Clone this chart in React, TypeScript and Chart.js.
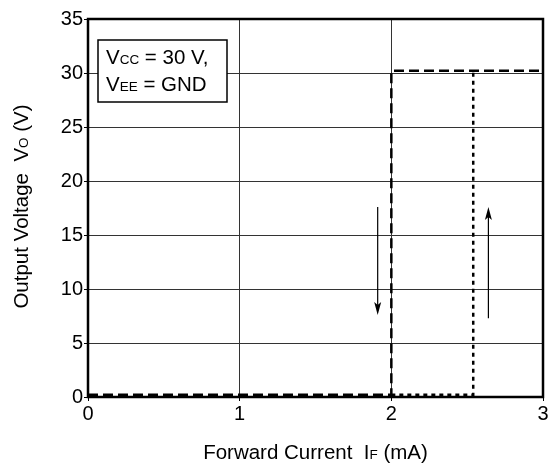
import React, { useEffect, useRef } from "react";
import { Chart, registerables } from "chart.js";

Chart.register(...registerables);

// Data
const xTicks = [0, 1, 2, 3];
const yTicks = [0, 5, 10, 15, 20, 25, 30, 35];
const turnOffX = [0, 2.0, 2.0, 3.0];
const turnOffY = [0.2, 0.2, 30.2, 30.2];
const turnOnX = [2.0, 2.54, 2.54];
const turnOnY = [0.2, 0.2, 30.2];
const arrowDownX = 1.91;
const arrowDownY = [17.6, 7.6];
const arrowUpX = 2.64;
const arrowUpY = [7.3, 17.6];
const noteLines = [
  [{ t: "V", s: false }, { t: "CC", s: true }, { t: " = 30 V,", s: false }],
  [{ t: "V", s: false }, { t: "EE", s: true }, { t: " = GND", s: false }],
];
const xTitle = [
  { t: "Forward Current  I", s: false },
  { t: "F", s: true },
  { t: " (mA)", s: false },
];
const yTitle = [
  { t: "Output Voltage  V", s: false },
  { t: "O", s: true },
  { t: " (V)", s: false },
];

const FONT = "'Liberation Sans', Arial, sans-serif";

type Seg = { t: string; s: boolean };

function segWidth(ctx: CanvasRenderingContext2D, segs: Seg[], big: number, small: number) {
  let w = 0;
  for (const sg of segs) {
    ctx.font = `${sg.s ? small : big}px ${FONT}`;
    w += ctx.measureText(sg.t).width;
  }
  return w;
}

function drawSegs(ctx: CanvasRenderingContext2D, segs: Seg[], x: number, y: number, big: number, small: number) {
  let cx = x;
  ctx.textBaseline = "alphabetic";
  ctx.textAlign = "left";
  for (const sg of segs) {
    ctx.font = `${sg.s ? small : big}px ${FONT}`;
    ctx.fillText(sg.t, cx, y);
    cx += ctx.measureText(sg.t).width;
  }
}

function arrow(ctx: CanvasRenderingContext2D, x: number, y1: number, y2: number) {
  ctx.save();
  ctx.strokeStyle = "#000";
  ctx.fillStyle = "#000";
  ctx.lineWidth = 1.2;
  ctx.setLineDash([]);
  const dir = y2 > y1 ? 1 : -1;
  ctx.beginPath();
  ctx.moveTo(x, y1);
  ctx.lineTo(x, y2 - dir * 8);
  ctx.stroke();
  ctx.beginPath();
  ctx.moveTo(x, y2);
  ctx.lineTo(x - 3.5, y2 - dir * 13);
  ctx.lineTo(x, y2 - dir * 10);
  ctx.lineTo(x + 3.5, y2 - dir * 13);
  ctx.closePath();
  ctx.fill();
  ctx.restore();
}

const decorPlugin = {
  id: "decor",
  afterDatasetsDraw(chart: any) {
    const { ctx, chartArea: a, scales } = chart;
    const xs = scales.x;
    const ys = scales.y;
    ctx.save();
    // frame
    ctx.strokeStyle = "#000";
    ctx.lineWidth = 2.5;
    ctx.setLineDash([]);
    ctx.strokeRect(a.left, a.top, a.right - a.left, a.bottom - a.top);
    // arrows
    arrow(ctx, xs.getPixelForValue(arrowDownX), ys.getPixelForValue(arrowDownY[0]), ys.getPixelForValue(arrowDownY[1]));
    arrow(ctx, xs.getPixelForValue(arrowUpX), ys.getPixelForValue(arrowUpY[0]), ys.getPixelForValue(arrowUpY[1]));
    // note box
    const bx = a.left + 10, by = 40, bw = 129, bh = 62;
    ctx.fillStyle = "#fff";
    ctx.fillRect(bx, by, bw, bh);
    ctx.lineWidth = 1.5;
    ctx.strokeRect(bx, by, bw, bh);
    ctx.fillStyle = "#000";
    drawSegs(ctx, noteLines[0], bx + 8, 64, 20.5, 13.5);
    drawSegs(ctx, noteLines[1], bx + 8, 91, 20.5, 13.5);
    // x title
    const xw = segWidth(ctx, xTitle, 20.5, 13.5);
    drawSegs(ctx, xTitle, (a.left + a.right) / 2 - xw / 2, 459, 20.5, 13.5);
    // y title
    const yw = segWidth(ctx, yTitle, 20.5, 13.5);
    ctx.translate(28, 206.5);
    ctx.rotate(-Math.PI / 2);
    drawSegs(ctx, yTitle, -yw / 2, 0, 20.5, 13.5);
    ctx.restore();
  },
};

export default function App() {
  const ref = useRef<HTMLCanvasElement>(null);
  useEffect(() => {
    if (!ref.current) return;
    const chart = new Chart(ref.current, {
      type: "scatter",
      data: {
        datasets: [
          {
            data: turnOffX.map((x, i) => ({ x, y: turnOffY[i] })),
            showLine: true,
            borderColor: "#000",
            borderWidth: 2.5,
            borderDash: [10, 5],
            pointRadius: 0,
            fill: false,
          },
          {
            data: turnOnX.map((x, i) => ({ x, y: turnOnY[i] })),
            showLine: true,
            borderColor: "#000",
            borderWidth: 2.5,
            borderDash: [4, 4],
            pointRadius: 0,
            fill: false,
          },
        ],
      },
      options: {
        responsive: false,
        animation: false,
        events: [],
        layout: { padding: { top: 19, right: 7, left: 0, bottom: 0 } },
        plugins: { legend: { display: false }, tooltip: { enabled: false } },
        scales: {
          x: {
            type: "linear",
            min: 0,
            max: 3,
            afterFit: (s: any) => { s.height = 70; },
            afterBuildTicks: (s: any) => { s.ticks = xTicks.map((v) => ({ value: v })); },
            ticks: { color: "#000", font: { family: FONT, size: 20 }, padding: 1, maxRotation: 0 },
            grid: { color: "#333", lineWidth: 1, tickLength: 4, tickColor: "#000" },
            border: { display: false },
          },
          y: {
            type: "linear",
            min: 0,
            max: 35,
            afterFit: (s: any) => { s.width = 88; },
            afterBuildTicks: (s: any) => { s.ticks = yTicks.map((v) => ({ value: v })); },
            ticks: { color: "#000", font: { family: FONT, size: 20 }, padding: 1 },
            grid: { color: "#333", lineWidth: 1, tickLength: 4, tickColor: "#000" },
            border: { display: false },
          },
        },
      },
      plugins: [decorPlugin],
    });
    return () => chart.destroy();
  }, []);
  return (
    <div style={{ position: "absolute", left: 0, top: 0, width: 550, height: 467, background: "#fff" }}>
      <canvas ref={ref} width={550} height={467} style={{ width: 550, height: 467 }} />
    </div>
  );
}
